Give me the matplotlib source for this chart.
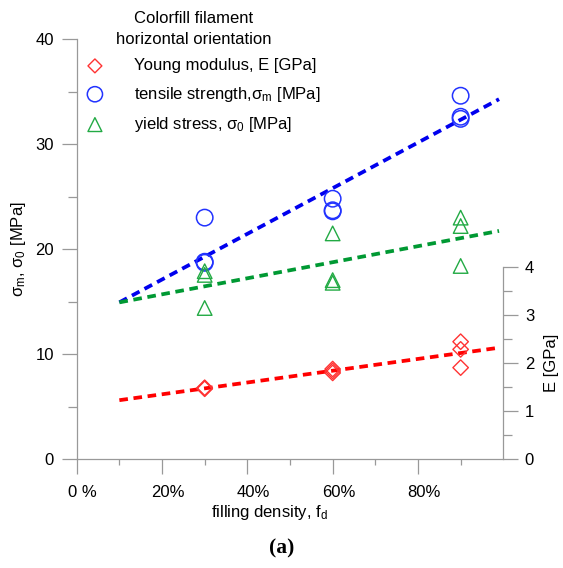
import numpy as np
import matplotlib
matplotlib.use("Agg")
import matplotlib.pyplot as plt
from matplotlib.transforms import ScaledTranslation
from matplotlib.ticker import MultipleLocator

plt.rcParams["font.family"] = ["Liberation Sans", "DejaVu Sans"]
plt.rcParams["mathtext.fontset"] = "custom"
plt.rcParams["mathtext.rm"] = "Liberation Sans"
plt.rcParams["mathtext.it"] = "Liberation Sans"
plt.rcParams["font.size"] = 12

# filling density of each specimen (fraction)
fill = [0.3, 0.3, 0.3, 0.6, 0.6, 0.6, 0.9, 0.9, 0.9]
# Young modulus E [GPa]
young = [1.49, 1.48, 1.47, 1.88, 1.84, 1.80, 2.45, 2.29, 1.91]
# tensile strength sigma_m [MPa]
tensile = [23.0, 18.8, 18.7, 24.8, 23.7, 23.6, 34.6, 32.6, 32.4]
# yield stress sigma_0 [MPa]
yld = [17.9, 17.55, 14.4, 21.5, 17.05, 16.8, 23.0, 22.2, 18.4]

x_ticks = [0.0, 0.2, 0.4, 0.6, 0.8]
x_tick_labels = ["0 %", "20%", "40%", "60%", "80%"]

grey = "#999999"
c_red, c_blue, c_green = "#ff0000", "#0000ee", "#009933"
fs = 12

fig = plt.figure(figsize=(5.63, 5.68), dpi=100)
ax = fig.add_axes([76.7 / 563, 1 - 459.3 / 568, (503.3 - 76.7) / 563, (459.3 - 39) / 568])
ax2 = ax.twinx()

x_fit = np.linspace(0.1, 0.99, 50)


def trend(y):
    k, b = np.polyfit(fill, y, 1)
    return k * x_fit + b


line_kw = dict(lw=2.7, dashes=(2.3, 1.5), dash_capstyle="butt")
ax.plot(x_fit, trend(tensile), color=c_blue, zorder=3, **line_kw)
ax.plot(x_fit, trend(yld), color=c_green, zorder=3, **line_kw)
ax2.plot(x_fit, trend(young), color=c_red, zorder=3, **line_kw)

ax2.scatter(fill, young, marker="D", s=62, facecolors="none", edgecolors="#ff3333",
            linewidths=1.0, zorder=4)
ax.scatter(fill, tensile, marker="o", s=140, facecolors="none", edgecolors="#2233ff",
           linewidths=1.1, zorder=4)
ax.scatter(fill, yld, marker="^", s=110, facecolors="none", edgecolors="#22aa44",
           linewidths=1.0, zorder=4)

# legend proxies
h_e = ax.scatter([], [], marker="D", s=50, facecolors="none", edgecolors="#ff3333", linewidths=1.0)
h_m = ax.scatter([], [], marker="o", s=120, facecolors="none", edgecolors="#2233ff", linewidths=1.1)
h_0 = ax.scatter([], [], marker="^", s=100, facecolors="none", edgecolors="#22aa44", linewidths=1.0)
ax.legend([h_e, h_m, h_0],
          ["Young modulus, E [GPa]",
           r"tensile strength,$\sigma_{\rm m}$ [MPa]",
           r"yield stress, $\sigma_0$ [MPa]"],
          loc="upper left", bbox_to_anchor=(-0.012, 0.97), frameon=False,
          handletextpad=1.35, labelspacing=0.68, borderaxespad=0, fontsize=fs)
ax.text(0.275, 1.024, "Colorfill filament\nhorizontal orientation", transform=ax.transAxes,
        ha="center", va="center", multialignment="center", fontsize=fs, linespacing=1.5)

# left axis
ax.set_xlim(0, 1.0)
ax.set_ylim(0, 40)
ax.yaxis.set_major_locator(MultipleLocator(10))
ax.yaxis.set_minor_locator(MultipleLocator(5))
ax.set_xticks(x_ticks)
ax.set_xticklabels(x_tick_labels)
ax.set_xticks(np.arange(0.1, 1.0, 0.2), minor=True)
ax.tick_params(axis="both", which="major", direction="out", length=10.5, width=0.9,
               color=grey, pad=6, labelsize=fs)
ax.tick_params(axis="y", which="minor", direction="out", length=6.3, width=0.9, color=grey)
ax.tick_params(axis="x", which="minor", direction="out", length=4.5, width=0.9, color=grey)
ax.tick_params(axis="x", which="major", pad=8)
for lab in ax.get_xticklabels():
    lab.set_transform(lab.get_transform() + ScaledTranslation(6 / 100, 0, fig.dpi_scale_trans))

for s in ["top", "right"]:
    ax.spines[s].set_visible(False)
for s in ["left", "bottom"]:
    ax.spines[s].set_color(grey)
    ax.spines[s].set_linewidth(0.9)

ax.set_ylabel(r"$\sigma_{\rm m}$, $\sigma_0$ [MPa]", fontsize=fs)
ax.yaxis.set_label_coords(-0.115, 0.5)
ax.set_xlabel(r"filling density, f$_{\rm d}$", fontsize=fs)
ax.xaxis.set_label_coords(0.453, -0.105)

# right axis for E, spine only spans 0..4 GPa
ax2.set_ylim(0, (459.3 - 39) / 48)
ax2.set_yticks([0, 1, 2, 3, 4])
ax2.set_yticks(np.arange(0.5, 4, 1.0), minor=True)
ax2.spines["right"].set_bounds(0, 4)
for s in ["top", "left", "bottom"]:
    ax2.spines[s].set_visible(False)
ax2.spines["right"].set_color(grey)
ax2.spines["right"].set_linewidth(0.9)
ax2.tick_params(axis="y", which="major", direction="out", length=10.5, width=0.9,
                color=grey, pad=5, labelsize=fs)
ax2.tick_params(axis="y", which="minor", direction="out", length=6.3, width=0.9, color=grey)
ax2.set_ylabel("E [GPa]", fontsize=fs)
ax2.yaxis.set_label_coords(1.095, 2 / ((459.3 - 39) / 48))

fig.text(0.5, 0.035, "(a)", ha="center", va="center", fontsize=15.5, fontweight="bold",
         family=["Liberation Serif", "DejaVu Serif"])

fig.savefig("out.png", dpi=100)
